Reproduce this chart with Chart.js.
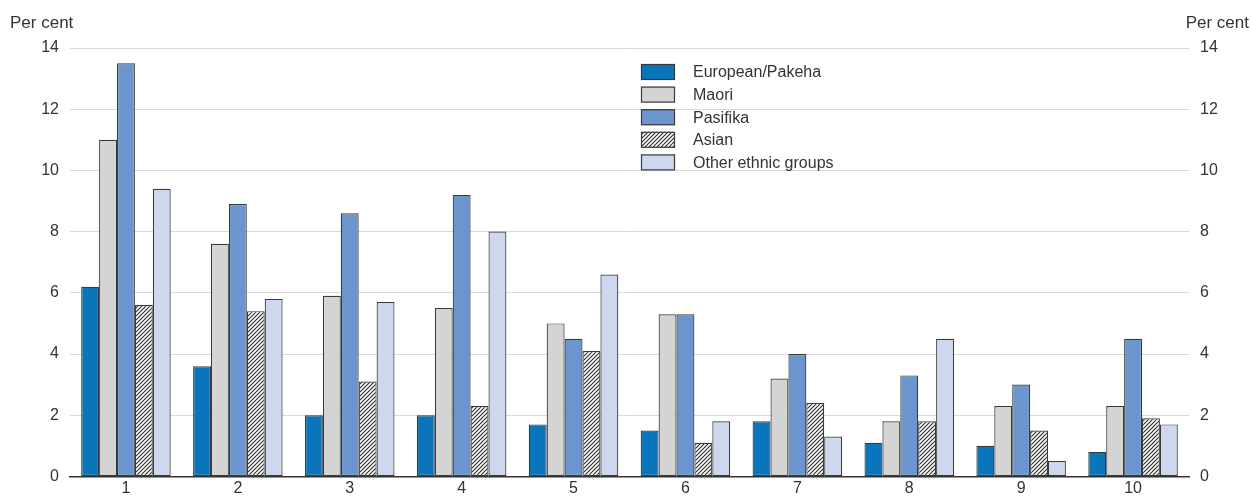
<!DOCTYPE html>
<html>
<head>
<meta charset="utf-8">
<script src="https://cdn.jsdelivr.net/npm/chart.js@4/dist/chart.umd.min.js"></script>
<style>
  html, body { margin: 0; padding: 0; background: #fff; overflow: hidden; }
  canvas { display: block; }
</style>
</head>
<body>
<canvas id="barChart" width="1251" height="497"></canvas>
<script>
const categories = ["1", "2", "3", "4", "5", "6", "7", "8", "9", "10"];
const european = [6.2, 3.6, 2.0, 2.0, 1.7, 1.5, 1.8, 1.1, 1.0, 0.8];
const maori = [11.0, 7.6, 5.9, 5.5, 5.0, 5.3, 3.2, 1.8, 2.3, 2.3];
const pasifika = [13.5, 8.9, 8.6, 9.2, 4.5, 5.3, 4.0, 3.3, 3.0, 4.5];
const asian = [5.6, 5.4, 3.1, 2.3, 4.1, 1.1, 2.4, 1.8, 1.5, 1.9];
const other = [9.4, 5.8, 5.7, 8.0, 6.6, 1.8, 1.3, 4.5, 0.5, 1.7];
const yMin = 0, yMax = 14, yStep = 2;

const FONT = "'Liberation Sans', Arial, sans-serif";
const TEXT = "#333";
const EDGE = "#3a3a3a";

const canvas = document.getElementById("barChart");
const ctx = canvas.getContext("2d");

// diagonal hatch for the Asian series
function hatch() {
  const n = 4;
  const c = document.createElement("canvas");
  c.width = n; c.height = n;
  const x = c.getContext("2d");
  x.fillStyle = "#fff";
  x.fillRect(0, 0, n, n);
  x.strokeStyle = "#2a2a2a";
  x.lineWidth = 1.1;
  x.beginPath();
  x.moveTo(0, n); x.lineTo(n, 0);
  x.moveTo(-1, 1); x.lineTo(1, -1);
  x.moveTo(n - 1, n + 1); x.lineTo(n + 1, n - 1);
  x.stroke();
  return ctx.createPattern(c, "repeat");
}
const asianFill = hatch();

const series = [
  { label: "European/Pakeha", data: european, color: "#0b75bb" },
  { label: "Maori", data: maori, color: "#d3d4d6" },
  { label: "Pasifika", data: pasifika, color: "#6b96cd" },
  { label: "Asian", data: asian, color: asianFill },
  { label: "Other ethnic groups", data: other, color: "#cdd8ef" },
];

// legend inside the plot + "Per cent" labels
const extras = {
  id: "extras",
  afterDraw(chart) {
    const c = chart.ctx;
    c.save();
    c.font = "17px " + FONT;
    c.fillStyle = TEXT;
    c.textBaseline = "middle";
    c.textAlign = "left";
    c.fillText("Per cent", 10, 23);
    c.textAlign = "right";
    c.fillText("Per cent", 1249, 23);
    c.textAlign = "left";
    c.font = "16px " + FONT;
    series.forEach((s, i) => {
      const y = 72 + i * 22.6;
      c.fillStyle = s.color;
      c.fillRect(641, y - 8, 34, 16);
      c.strokeStyle = EDGE;
      c.lineWidth = 1.2;
      c.strokeRect(641.5, y - 7.5, 33, 15);
      c.fillStyle = TEXT;
      c.fillText(s.label, 693, y + 1);
    });
    c.restore();
  }
};

new Chart(canvas, {
  type: "bar",
  data: {
    labels: categories,
    datasets: series.map(s => ({
      label: s.label,
      data: s.data,
      backgroundColor: s.color,
      borderColor: EDGE,
      borderWidth: 1.2,
      borderSkipped: false,
      categoryPercentage: 0.8,
      barPercentage: 1.0,
    })),
  },
  options: {
    responsive: false,
    animation: false,
    layout: { padding: { top: 48, left: 0, right: 0, bottom: 0 } },
    plugins: {
      legend: { display: false },
      tooltip: { enabled: false },
    },
    scales: {
      x: {
        grid: { display: false, drawTicks: false },
        border: { color: "#333", width: 1.5 },
        ticks: { color: TEXT, font: { family: FONT, size: 16 }, padding: 3 },
        afterFit(scale) { scale.height = 18; },
      },
      y: {
        position: "left",
        min: yMin, max: yMax,
        grid: { color: "#d9d9d9", drawTicks: false, lineWidth: 1 },
        border: { display: false },
        ticks: { stepSize: yStep, color: TEXT, font: { family: FONT, size: 16 }, padding: 11 },
        afterFit(scale) { scale.width = 70; },
      },
      y2: {
        position: "right",
        min: yMin, max: yMax,
        grid: { display: false, drawTicks: false },
        border: { display: false },
        ticks: { stepSize: yStep, color: TEXT, font: { family: FONT, size: 16 }, padding: 11 },
        afterFit(scale) { scale.width = 62; },
      },
    },
  },
  plugins: [extras],
});
</script>
</body>
</html>
